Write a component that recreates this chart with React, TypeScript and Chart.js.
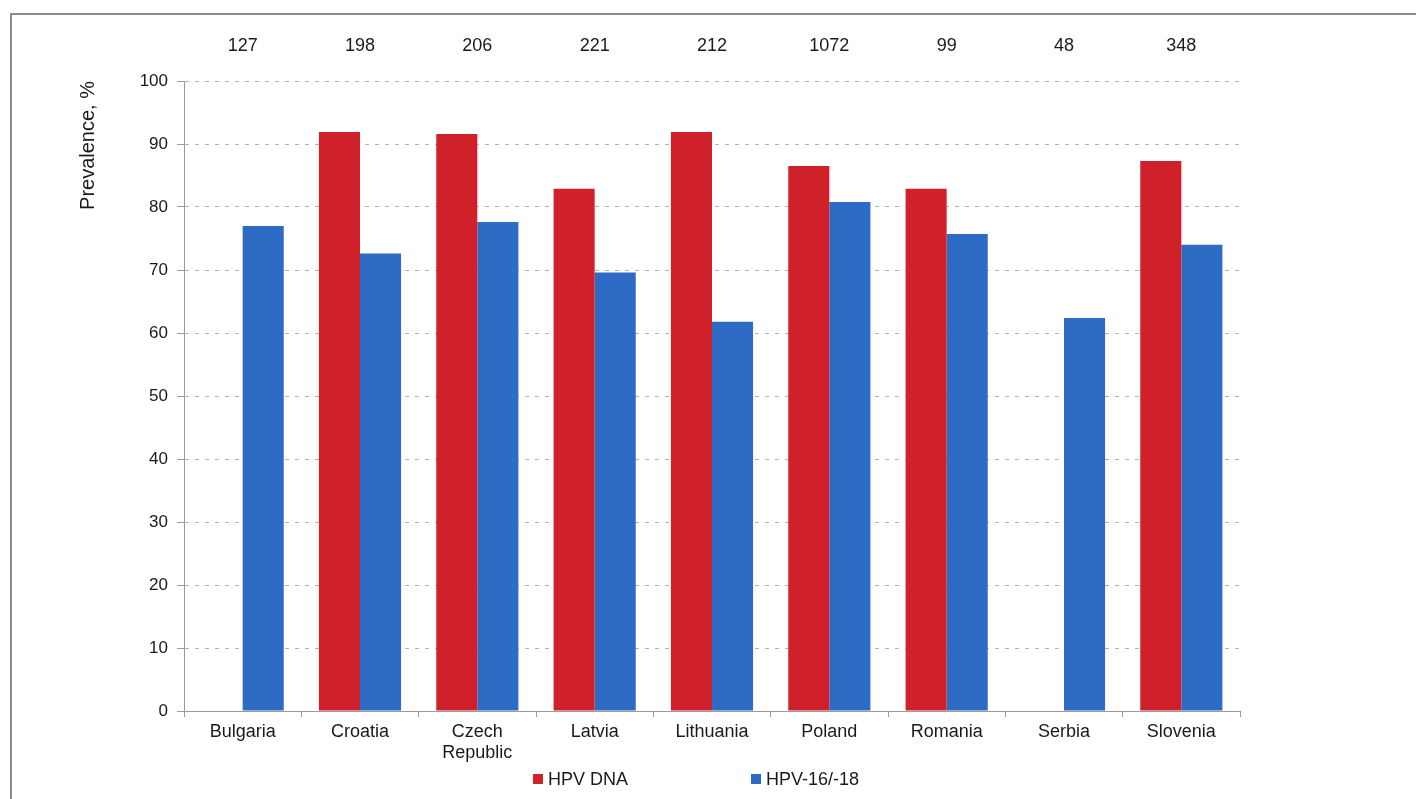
import React, { useEffect, useRef } from "react";
import { Chart, registerables } from "chart.js";

Chart.register(...registerables);

const categories: (string | string[])[] = [
  "Bulgaria",
  "Croatia",
  ["Czech", "Republic"],
  "Latvia",
  "Lithuania",
  "Poland",
  "Romania",
  "Serbia",
  "Slovenia",
];
const sampleSizes: string[] = ["127", "198", "206", "221", "212", "1072", "99", "48", "348"];
const hpvDna: (number | null)[] = [null, 91.9, 91.6, 82.9, 91.9, 86.5, 82.9, null, 87.3];
const hpv1618: number[] = [77.0, 72.6, 77.6, 69.6, 61.8, 80.8, 75.7, 62.4, 74.0];
const yTicks: number[] = [0, 10, 20, 30, 40, 50, 60, 70, 80, 90, 100];

const seriesNames = ["HPV DNA", "HPV-16/-18"];
const RED = "#d0202a";
const BLUE = "#2d6bc4";
const FONT = "'Liberation Sans', Arial, sans-serif";
const TEXT = "#1a1a1a";

const topCountsPlugin = {
  id: "topCounts",
  afterDatasetsDraw(chart: any) {
    const { ctx, chartArea, scales } = chart;
    ctx.save();
    ctx.font = `18px ${FONT}`;
    ctx.fillStyle = TEXT;
    ctx.textAlign = "center";
    ctx.textBaseline = "middle";
    sampleSizes.forEach((s, i) => {
      const x = scales.x.getPixelForValue(i);
      ctx.fillText(s, x, chartArea.top - 35);
    });
    ctx.restore();
  },
};

const customLegendPlugin = {
  id: "customLegend",
  afterDraw(chart: any) {
    const { ctx, chartArea } = chart;
    const colors = [RED, BLUE];
    ctx.save();
    ctx.font = `18px ${FONT}`;
    ctx.textBaseline = "middle";
    ctx.textAlign = "left";
    const box = 10;
    const textGap = 5;
    const itemGap = 123;
    const widths = seriesNames.map((n) => box + textGap + ctx.measureText(n).width);
    const total = widths.reduce((a, b) => a + b, 0) + itemGap * (widths.length - 1);
    let x = chart.width / 2 - 12 - total / 2;
    const y = chartArea.bottom + 68;
    seriesNames.forEach((n, i) => {
      ctx.fillStyle = colors[i];
      ctx.fillRect(x, y - box / 2, box, box);
      ctx.fillStyle = TEXT;
      ctx.fillText(n, x + box + textGap, y + 1);
      x += widths[i] + itemGap;
    });
    ctx.restore();
  },
};

export default function App() {
  const canvasRef = useRef<HTMLCanvasElement | null>(null);

  useEffect(() => {
    if (!canvasRef.current) return;
    Chart.defaults.font.family = FONT;
    const chart = new Chart(canvasRef.current, {
      type: "bar",
      data: {
        labels: categories as any,
        datasets: [
          {
            label: seriesNames[0],
            data: hpvDna,
            backgroundColor: RED,
            categoryPercentage: 0.7,
            barPercentage: 1.0,
          },
          {
            label: seriesNames[1],
            data: hpv1618,
            backgroundColor: BLUE,
            categoryPercentage: 0.7,
            barPercentage: 1.0,
          },
        ],
      },
      options: {
        animation: false,
        responsive: true,
        maintainAspectRatio: false,
        layout: { padding: { top: 81, right: 176, bottom: 0, left: 0 } },
        plugins: {
          legend: { display: false },
          tooltip: { enabled: false },
        },
        scales: {
          x: {
            grid: {
              display: true,
              drawOnChartArea: false,
              drawTicks: true,
              tickLength: 6,
              color: "#9a9a9a",
              offset: true,
            },
            border: { display: true, color: "#9a9a9a", width: 1 },
            ticks: {
              color: TEXT,
              font: { size: 18, family: FONT },
              padding: 4,
              maxRotation: 0,
              autoSkip: false,
            },
            afterFit(scale: any) {
              scale.height = 88;
            },
          },
          y: {
            min: 0,
            max: 100,
            afterBuildTicks(scale: any) {
              scale.ticks = yTicks.map((v) => ({ value: v }));
            },
            grid: {
              color: "#b4b4b4",
              tickColor: "#9a9a9a",
              drawTicks: true,
              tickLength: 7,
              lineWidth: 1,
            },
            border: { display: true, color: "#9a9a9a", width: 1, dash: [4, 6] },
            ticks: {
              color: TEXT,
              font: { size: 17, family: FONT },
              padding: 9,
            },
            title: {
              display: true,
              text: "Prevalence, %",
              color: TEXT,
              font: { size: 20, family: FONT },
              align: "end",
              padding: { top: 76, bottom: 0 },
            },
            afterFit(scale: any) {
              scale.width = 184;
            },
          },
        },
      },
      plugins: [topCountsPlugin, customLegendPlugin],
    } as any);
    return () => chart.destroy();
  }, []);

  return (
    <div
      style={{
        position: "fixed",
        left: 0,
        top: 0,
        width: 1416,
        height: 799,
        overflow: "hidden",
        background: "#ffffff",
      }}
    >
      <div
        style={{
          position: "absolute",
          left: 10,
          top: 13,
          width: 1500,
          height: 900,
          border: "2px solid #8c8c8c",
          boxSizing: "border-box",
        }}
      />
      <div style={{ position: "absolute", left: 0, top: 0, width: 1416, height: 799 }}>
        <canvas ref={canvasRef} />
      </div>
    </div>
  );
}
